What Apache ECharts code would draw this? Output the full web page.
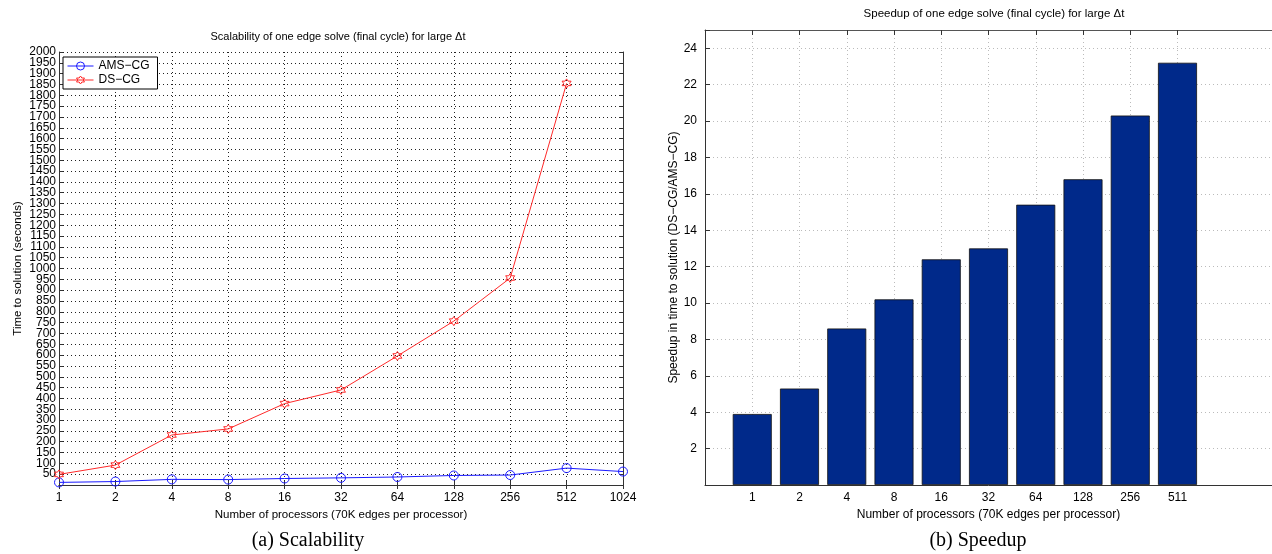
<!DOCTYPE html>
<html><head><meta charset="utf-8">
<script src="https://cdn.jsdelivr.net/npm/echarts@6/dist/echarts.min.js"></script>
<style>html,body{margin:0;padding:0;background:#fff}#c{width:1272px;height:554px}</style>
</head><body><div id="c"></div>
<script>
// ---- data ----
const procLabels = ['1','2','4','8','16','32','64','128','256','512','1024'];
const amsCG = [12, 16, 26, 25, 30, 33, 37, 44, 46, 78, 62];
const dsCG  = [49, 92, 231, 259, 376, 439, 596, 757, 956, 1855, null];
const speedupLabels = ['1','2','4','8','16','32','64','128','256','511'];
const speedup = [3.9, 5.3, 8.6, 10.2, 12.4, 13.0, 15.4, 16.8, 20.3, 23.2];

// ---- helpers ----
const F = 'Liberation Sans, Arial, Helvetica, sans-serif';
const rightCats = [''].concat(speedupLabels, ['', '']);
const rightBars = [null].concat(speedup, [null, null]);
const isBarIdx = (i) => i >= 1 && i <= speedupLabels.length;
const hexagram = 'path://M0,-10L2.887,-5L8.66,-5L5.774,0L8.66,5L2.887,5L0,10L-2.887,5L-8.66,5L-5.774,0L-8.66,-5L-2.887,-5Z';
const BLUE = '#1a1aff', RED = '#ff2a2a';
// tiny extra above 2000 so the 2000 label and the 1950 label are both kept
const leftYMax = 2000.001;

const chart = echarts.init(document.getElementById('c'), null, {renderer: 'canvas'});
chart.setOption({
  animation: false,
  backgroundColor: '#fff',
  grid: [
    {left: 59, top: 52, width: 564, height: 433},
    {left: 705, top: 30, width: 576, height: 455}
  ],
  legend: {
    left: 63, top: 57, orient: 'vertical',
    data: [
      {name: 'AMS\u2212CG', itemStyle: {color: 'rgba(255,255,255,0)', borderColor: BLUE, borderWidth: 1}, lineStyle: {color: BLUE, width: 1}},
      {name: 'DS\u2212CG', itemStyle: {color: 'rgba(255,255,255,0)', borderColor: RED, borderWidth: 1}, lineStyle: {color: RED, width: 1}}
    ],
    backgroundColor: '#fff', borderColor: '#000', borderWidth: 1,
    padding: [3, 8, 3, 4], itemGap: 2, itemWidth: 26, itemHeight: 10,
    textStyle: {fontFamily: F, fontSize: 12, color: '#000'}
  },
  xAxis: [
    {
      type: 'category', gridIndex: 0, data: procLabels, boundaryGap: false,
      name: 'Number of processors (70K edges per processor)', nameLocation: 'middle', nameGap: 20,
      nameTextStyle: {fontFamily: F, fontSize: 11.5, color: '#000'},
      axisLine: {lineStyle: {color: '#333', width: 1}},
      axisTick: {inside: true, length: 4, lineStyle: {color: '#333'}},
      axisLabel: {interval: 0, fontFamily: F, fontSize: 12, color: '#000', margin: 7},
      splitLine: {show: true, interval: (i) => i > 0 && i < procLabels.length - 1, lineStyle: {color: '#222', type: [1, 3], width: 1}}
    },
    {
      type: 'category', gridIndex: 0, data: procLabels, boundaryGap: false, position: 'top',
      axisLine: {lineStyle: {color: '#333', width: 1}},
      axisTick: {inside: true, length: 4, lineStyle: {color: '#333'}},
      axisLabel: {show: false}, splitLine: {show: false}
    },
    {
      type: 'category', gridIndex: 1, data: rightCats, boundaryGap: false,
      name: 'Number of processors (70K edges per processor)', nameLocation: 'middle', nameGap: 19,
      nameTextStyle: {fontFamily: F, fontSize: 12, color: '#000'},
      axisLine: {lineStyle: {color: '#333', width: 1}},
      axisTick: {show: false},
      axisLabel: {interval: (i) => isBarIdx(i), fontFamily: F, fontSize: 12, color: '#000', margin: 7},
      splitLine: {show: true, interval: (i) => isBarIdx(i), lineStyle: {color: '#bbb', type: [1, 3], width: 1}}
    },
    {
      type: 'category', gridIndex: 1, data: rightCats, boundaryGap: false, position: 'top',
      axisLine: {lineStyle: {color: '#555', width: 1}},
      axisTick: {inside: true, length: 5, interval: (i) => isBarIdx(i), lineStyle: {color: '#333'}},
      axisLabel: {show: false}, splitLine: {show: false}
    }
  ],
  yAxis: [
    {
      type: 'value', gridIndex: 0, min: 0, max: leftYMax, interval: 50,
      name: 'Time to solution (seconds)', nameLocation: 'middle', nameGap: 35,
      nameTextStyle: {fontFamily: F, fontSize: 11.5, color: '#000'},
      axisLine: {show: true, lineStyle: {color: '#333', width: 1}},
      axisTick: {show: true, inside: true, length: 4, lineStyle: {color: '#333'}},
      axisLabel: {fontFamily: F, fontSize: 12, color: '#000', margin: 3,
        formatter: (v) => (v > 0 && v % 50 === 0) ? String(v) : ''},
      splitLine: {show: true, lineStyle: {color: '#222', type: [1, 3], width: 1}}
    },
    {
      type: 'value', gridIndex: 0, min: 0, max: leftYMax, interval: 50, position: 'right',
      axisLine: {show: true, lineStyle: {color: '#333', width: 1}},
      axisTick: {show: true, inside: true, length: 4, lineStyle: {color: '#333'}},
      axisLabel: {show: false}, splitLine: {show: false}
    },
    {
      type: 'value', gridIndex: 1, min: 0, max: 25, interval: 2,
      name: 'Speedup in time to solution (DS\u2212CG/AMS\u2212CG)', nameLocation: 'middle', nameGap: 22,
      nameTextStyle: {fontFamily: F, fontSize: 12, color: '#000'},
      axisLine: {show: true, lineStyle: {color: '#333', width: 1}},
      axisTick: {show: true, inside: true, length: 5, lineStyle: {color: '#333'}},
      axisLabel: {fontFamily: F, fontSize: 12, color: '#000', margin: 8,
        formatter: (v) => (v > 0 && v % 2 === 0) ? String(v) : ''},
      splitLine: {show: true, lineStyle: {color: '#bbb', type: [1, 3], width: 1}}
    }
  ],
  series: [
    {
      name: 'AMS\u2212CG', type: 'line', xAxisIndex: 0, yAxisIndex: 0, data: amsCG,
      symbol: 'circle', symbolSize: 9,
      lineStyle: {color: BLUE, width: 1},
      itemStyle: {color: 'rgba(255,255,255,0)', borderColor: BLUE, borderWidth: 1}
    },
    {
      name: 'DS\u2212CG', type: 'line', xAxisIndex: 0, yAxisIndex: 0, data: dsCG,
      symbol: hexagram, symbolSize: 9, connectNulls: false,
      lineStyle: {color: RED, width: 1},
      itemStyle: {color: 'rgba(255,255,255,0)', borderColor: RED, borderWidth: 1}
    },
    {
      name: 'Speedup', type: 'bar', xAxisIndex: 2, yAxisIndex: 2, data: rightBars,
      barWidth: 39,
      itemStyle: {color: '#00298a', borderColor: '#111', borderWidth: 0.8}
    }
  ],
  graphic: [
    {type: 'text', x: 338, y: 37, style: {text: 'Scalability of one edge solve (final cycle) for large \u0394t', fontFamily: F, fontSize: 11, fill: '#000', textAlign: 'center', textVerticalAlign: 'middle'}},
    {type: 'text', x: 994, y: 14, style: {text: 'Speedup of one edge solve (final cycle) for large \u0394t', fontFamily: F, fontSize: 11.5, fill: '#000', textAlign: 'center', textVerticalAlign: 'middle'}},
    {type: 'text', x: 308, y: 541, style: {text: '(a) Scalability', fontFamily: 'Liberation Serif, DejaVu Serif, serif', fontSize: 20, fill: '#000', textAlign: 'center', textVerticalAlign: 'middle'}},
    {type: 'text', x: 978, y: 541, style: {text: '(b) Speedup', fontFamily: 'Liberation Serif, DejaVu Serif, serif', fontSize: 20, fill: '#000', textAlign: 'center', textVerticalAlign: 'middle'}}
  ]
});
</script></body></html>
